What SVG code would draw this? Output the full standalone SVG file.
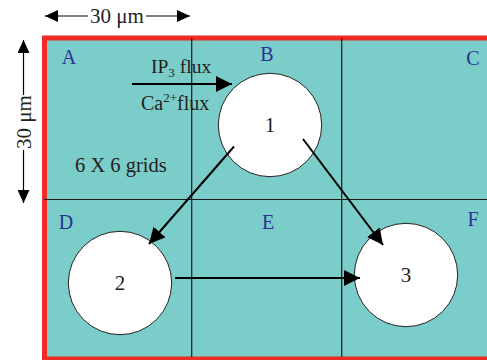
<svg xmlns="http://www.w3.org/2000/svg" width="487" height="360" viewBox="0 0 487 360">
<defs>
<marker id="ah" markerUnits="userSpaceOnUse" markerWidth="16" markerHeight="16" refX="16" refY="8" orient="auto">
<path d="M0,0 L16,8 L0,16 z" fill="#000"/>
</marker>
<marker id="dh" markerUnits="userSpaceOnUse" markerWidth="13" markerHeight="12" refX="13" refY="6" orient="auto-start-reverse">
<path d="M0,0 L13,6 L0,12 z" fill="#000"/>
</marker>
</defs>
<style>
.t{font-family:"Liberation Serif","Times New Roman",serif;fill:#231F20}
.lb{font-family:"Liberation Serif","Times New Roman",serif;fill:#2E3192;font-size:20px;text-anchor:middle}
.num{font-family:"Liberation Serif","Times New Roman",serif;fill:#231F20;font-size:21px;text-anchor:middle}
.grid{stroke:#1a1a1a;stroke-width:1.2;fill:none}
.cell{fill:#fff;stroke:#231F20;stroke-width:1}
.con{stroke:#000;stroke-width:2;fill:none}
.dim{stroke:#000;stroke-width:1.2;fill:none}
</style>
<rect x="0" y="0" width="487" height="360" fill="#fff"/>
<g id="domain">
<rect x="44.5" y="38" width="460" height="321" fill="#7BCDC9"/>
<path d="M44.5,360 V38 H487" stroke="#EE2B24" stroke-width="5" fill="none"/>
<line x1="44" y1="358.5" x2="487" y2="358.5" stroke="#EE2B24" stroke-width="4"/>
<line class="grid" x1="191.7" y1="38" x2="191.7" y2="357"/>
<line class="grid" x1="341.7" y1="38" x2="341.7" y2="357"/>
<line class="grid" x1="44" y1="199.5" x2="487" y2="199.5"/>
<text class="lb" x="69" y="64">A</text>
<text class="lb" x="267" y="61">B</text>
<text class="lb" x="473" y="65">C</text>
<text class="lb" x="66" y="229">D</text>
<text class="lb" x="268" y="229">E</text>
<text class="lb" x="473" y="226">F</text>
<text class="t" x="75" y="172" font-size="20.5">6 X 6 grids</text>
</g>
<g id="dimensions">
<line class="dim" x1="45" y1="16" x2="88" y2="16" marker-start="url(#dh)"/>
<line class="dim" x1="146" y1="16" x2="190" y2="16" marker-end="url(#dh)"/>
<text class="t" x="117" y="22.5" font-size="21" text-anchor="middle">30 μm</text>
<line class="dim" x1="23.5" y1="40" x2="23.5" y2="95" marker-start="url(#dh)"/>
<line class="dim" x1="23.5" y1="150" x2="23.5" y2="203" marker-end="url(#dh)"/>
<text class="t" font-size="21" text-anchor="middle" transform="translate(31,122) rotate(-90)">30 μm</text>
</g>
<g id="node1">
<circle class="cell" cx="270" cy="125" r="51.7"/>
<text class="num" x="270" y="132">1</text>
</g>
<g id="node2">
<circle class="cell" cx="120" cy="283" r="51.7"/>
<text class="num" x="120" y="290">2</text>
</g>
<g id="node3">
<circle class="cell" cx="406" cy="275" r="51.7"/>
<text class="num" x="406" y="282">3</text>
</g>
<g id="connectors">
<line class="con" x1="132" y1="84" x2="232" y2="84" marker-end="url(#ah)"/>
<line class="con" x1="234" y1="146.5" x2="149" y2="244" marker-end="url(#ah)"/>
<line class="con" x1="303" y1="139" x2="383" y2="245" marker-end="url(#ah)"/>
<line class="con" x1="175" y1="278" x2="360" y2="278" marker-end="url(#ah)"/>
</g>
<g id="flux-labels">
<text class="t" x="151" y="73" font-size="19.5">IP<tspan font-size="13" dy="4">3</tspan><tspan dy="-4"> flux</tspan></text>
<text class="t" x="141" y="110" font-size="20">Ca<tspan font-size="13" dy="-8">2+</tspan><tspan dy="8">flux</tspan></text>
</g>
</svg>
